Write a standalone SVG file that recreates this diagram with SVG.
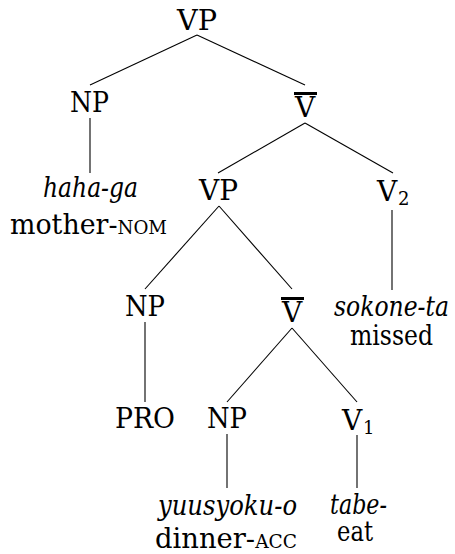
<svg xmlns="http://www.w3.org/2000/svg" width="455" height="554" viewBox="0 0 455 554">
<style>
text{font-family:'DejaVu Serif',serif;font-size:28px;fill:#000}
.c{text-anchor:middle}
.it{font-style:italic}
.sc{font-size:19px}
.sub{font-size:18px}
.bar{stroke:#000;stroke-width:3}
#connectors line{stroke:#000;stroke-width:1.1}
</style>
<rect width="455" height="554" fill="#fff"/>
<g id="connectors">
<line x1="197" y1="35" x2="90" y2="85"/>
<line x1="197" y1="35" x2="305" y2="85"/>
<line x1="90" y1="118" x2="90" y2="173"/>
<line x1="305" y1="123" x2="218" y2="173"/>
<line x1="305" y1="123" x2="393" y2="173"/>
<line x1="219" y1="206" x2="145" y2="289"/>
<line x1="219" y1="206" x2="292" y2="289"/>
<line x1="392" y1="210" x2="392" y2="290"/>
<line x1="145" y1="322" x2="145" y2="402"/>
<line x1="292" y1="328" x2="227" y2="402"/>
<line x1="292" y1="328" x2="357" y2="402"/>
<line x1="227" y1="434" x2="227" y2="488"/>
<line x1="357" y1="435" x2="357" y2="488"/>
</g>
<g id="vp-root"><text x="177" y="30" textLength="40" lengthAdjust="spacingAndGlyphs">VP</text></g>
<g id="np-subj"><text x="70" y="112" textLength="39" lengthAdjust="spacingAndGlyphs">NP</text></g>
<g id="vbar-top"><line class="bar" x1="294" y1="93.5" x2="317" y2="93.5"/><text class="c" x="305" y="117">V</text></g>
<g id="haha-ga"><text class="it" x="43" y="197" textLength="95" lengthAdjust="spacingAndGlyphs">haha-ga</text><text x="10" y="234" textLength="157" lengthAdjust="spacingAndGlyphs">mother-<tspan class="sc">NOM</tspan></text></g>
<g id="vp-emb"><text x="199" y="200" textLength="39" lengthAdjust="spacingAndGlyphs">VP</text></g>
<g id="v2"><text class="c" x="387" y="201">V</text><text class="sub" x="398" y="205">2</text></g>
<g id="sokone-ta"><text class="it" x="334" y="316" textLength="115" lengthAdjust="spacingAndGlyphs">sokone-ta</text><text x="350" y="345" textLength="83" lengthAdjust="spacingAndGlyphs">missed</text></g>
<g id="np-pro"><text x="125" y="316" textLength="40" lengthAdjust="spacingAndGlyphs">NP</text></g>
<g id="vbar-low"><line class="bar" x1="281" y1="298.5" x2="304" y2="298.5"/><text class="c" x="292" y="322">V</text></g>
<g id="pro"><text x="115" y="428" textLength="60" lengthAdjust="spacingAndGlyphs">PRO</text></g>
<g id="np-obj"><text x="207" y="428" textLength="40" lengthAdjust="spacingAndGlyphs">NP</text></g>
<g id="v1"><text class="c" x="352" y="430">V</text><text class="sub" x="363" y="434">1</text></g>
<g id="yuusyoku-o"><text class="it" x="158" y="515" textLength="139" lengthAdjust="spacingAndGlyphs">yuusyoku-o</text><text x="155" y="548" textLength="142" lengthAdjust="spacingAndGlyphs">dinner-<tspan class="sc">ACC</tspan></text></g>
<g id="tabe"><text class="it" x="330" y="514" textLength="57" lengthAdjust="spacingAndGlyphs">tabe-</text><text x="337" y="541" textLength="36" lengthAdjust="spacingAndGlyphs">eat</text></g>
</svg>
